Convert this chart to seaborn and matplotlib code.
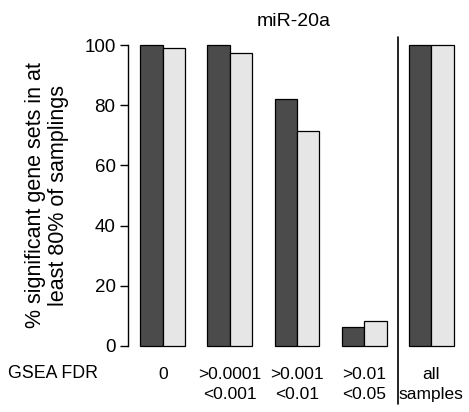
import matplotlib
matplotlib.use("Agg")
import matplotlib.pyplot as plt
import seaborn as sns
import pandas as pd

groups = ["0", ">0.0001\n<0.001", ">0.001\n<0.01", ">0.01\n<0.05", "all\nsamples"]
dark_vals = [100, 100, 82, 6.3, 100]
light_vals = [99, 97.3, 71.4, 8.3, 100]
series = ["dark", "light"]

df = pd.DataFrame({
    "group": groups * 2,
    "value": dark_vals + light_vals,
    "series": [series[0]] * len(groups) + [series[1]] * len(groups),
})

sns.set_theme(style="ticks")
plt.rcParams["font.family"] = ["Liberation Sans", "DejaVu Sans"]
plt.rcParams["text.color"] = "black"
plt.rcParams["axes.labelcolor"] = "black"
plt.rcParams["xtick.color"] = "black"
plt.rcParams["ytick.color"] = "black"

fig = plt.figure(figsize=(4.69, 4.12), dpi=100)
ax = fig.add_axes([128 / 469, (412 - 346) / 412, (460 - 128) / 469, (346 - 45) / 412])

sns.barplot(data=df, x="group", y="value", hue="series", order=groups,
            palette=["#4b4b4b", "#e6e6e6"], edgecolor="black", linewidth=0.9,
            width=0.67, legend=False, ax=ax)
for p in ax.patches:
    p.set_clip_on(False)

ax.set_xlim(-0.52, 4.43)
ax.set_ylim(0, 100)
ax.set_yticks([0, 20, 40, 60, 80, 100])
ax.tick_params(axis="y", labelsize=13.5, length=6, width=1, pad=3)
ax.tick_params(axis="x", labelsize=12.5, length=0, pad=15)
for lab in ax.get_xticklabels():
    lab.set_linespacing(1.45)
ax.spines[["top", "right", "bottom"]].set_visible(False)
ax.spines["left"].set_color("black")
ax.spines["left"].set_linewidth(1)
ax.set_xlabel("")
ax.set_ylabel("% significant gene sets in at\nleast 80% of samplings", fontsize=15.5,
              labelpad=11, linespacing=1.1)
ax.set_title("miR-20a", fontsize=14, pad=14)

# separator between subsets and all samples
ax.plot([3.5, 3.5], [102.7, -19.3], color="black", linewidth=1.2, clip_on=False)

fig.text(8 / 469, 1 - 373 / 412, "GSEA FDR", fontsize=12.8, va="center", ha="left")

fig.savefig("out.png", dpi=100)
